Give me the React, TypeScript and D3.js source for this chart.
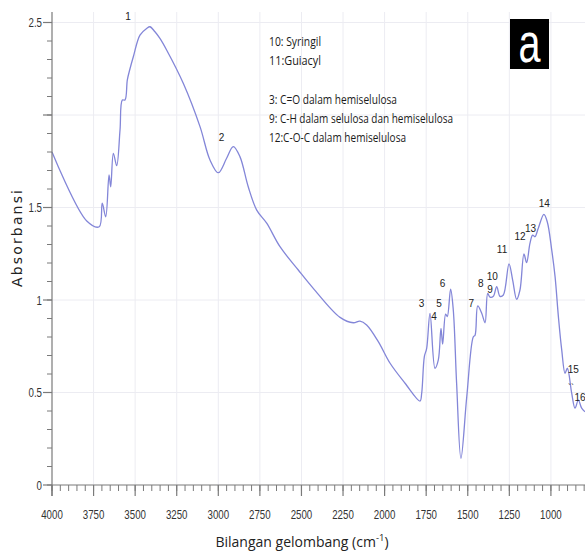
import React from "react";
import * as d3 from "d3";

const wavenumber = [
  4000, 3791, 3716, 3698, 3677, 3657, 3647, 3631, 3611, 3591, 3577, 3561, 3547, 3531, 3511,
  3471, 3431, 3411, 3381, 3351, 3310, 3210, 3110, 3050, 3000, 2950, 2910, 2870, 2820, 2769,
  2709, 2629, 2519, 2429, 2268, 2188, 2148, 2108, 2038, 1967, 1877, 1787, 1777, 1761, 1747,
  1727, 1697, 1677, 1661, 1651, 1633, 1623, 1603, 1587, 1567, 1541, 1506, 1467, 1456, 1440,
  1416, 1396, 1380, 1366, 1346, 1326, 1306, 1286, 1252, 1230, 1206, 1186, 1162, 1146, 1126,
  1110, 1096, 1076, 1042, 1022, 995, 975, 955, 935, 915, 901, 875, 855, 835, 815, 795,
];
const absorbance = [
  1.8, 1.427, 1.396, 1.523, 1.45, 1.676, 1.612, 1.793, 1.726, 1.919, 2.081, 2.081, 2.19, 2.25, 2.315,
  2.432, 2.468, 2.477, 2.45, 2.414, 2.35, 2.17, 1.937, 1.757, 1.688, 1.766, 1.829, 1.775, 1.612, 1.486,
  1.415, 1.288, 1.162, 1.063, 0.906, 0.877, 0.886, 0.865, 0.775, 0.658, 0.55, 0.454, 0.496, 0.694, 0.739,
  0.928, 0.631, 0.676, 0.847, 0.762, 0.924, 0.91, 1.058, 0.946, 0.55, 0.144, 0.477, 0.8, 0.81, 0.968,
  0.928, 0.877, 1.036, 1.015, 1.02, 1.072, 1.02, 1.027, 1.195, 1.108, 1.004, 1.054, 1.249, 1.202, 1.306,
  1.351, 1.342, 1.388, 1.463, 1.423, 1.27, 1.126, 0.91, 0.73, 0.604, 0.631, 0.496, 0.415, 0.459, 0.415, 0.396,
];

const peakNames = ["1", "2", "3", "4", "5", "6", "7", "8", "9", "10", "11", "12", "13", "14", "15", "16"];
const peakWn = [3543, 2981, 1778, 1703, 1673, 1651, 1479, 1422, 1366, 1352, 1294, 1186, 1122, 1040, 865, 825];
const peakAbs = [2.53, 1.881, 0.982, 0.91, 0.982, 1.09, 0.982, 1.09, 1.059, 1.126, 1.274, 1.342, 1.384, 1.523, 0.627, 0.474];

const legendLines = [
  "10: Syringil",
  "11:Guiacyl",
  "",
  "3: C=O dalam hemiselulosa",
  "9: C-H dalam selulosa dan hemiselulosa",
  "12:C-O-C dalam hemiselulosa",
];
const legendWidths = [52, 52, 0, 128, 184, 137];

const xMajorTicks = [4000, 3750, 3500, 3250, 3000, 2750, 2500, 2250, 2000, 1750, 1500, 1250, 1000];
const yMajorTicks = [0, 0.5, 1, 1.5, 2, 2.5];
const yTickLabels = ["0", "0.5", "1", "1.5", "", "2.5"];

const W = 585;
const H = 552;
const LINE = "#8386d8";
const AXIS = "#7a7a7a";
const GRID = "#ececf2";
const NARROW = "'Liberation Sans Narrow', 'Liberation Sans', Arial, sans-serif";

function charWidth(s: string) {
  let w = 0;
  for (const c of s) w += c === "." ? 2.7 : 5.4;
  return w;
}

export default function App() {
  const x = d3.scaleLinear().domain([4000, 795]).range([52, 585]);
  const y = d3.scaleLinear().domain([0, 2.5]).range([485, 22.5]);
  const pts: [number, number][] = wavenumber.map((w, i) => [w, absorbance[i]]);
  const line = d3
    .line<[number, number]>()
    .x((d) => x(d[0]))
    .y((d) => y(d[1]))
    .curve(d3.curveCatmullRom.alpha(0.5));

  const xMinor = d3.range(4000, 790, -50);
  const yMinor = d3.range(0, 2.501, 0.1);
  const x0 = x(4000);
  const y0 = y(0);

  return (
    <svg
      width={W}
      height={H}
      style={{ position: "absolute", left: 0, top: 0, background: "#fff" }}
      xmlns="http://www.w3.org/2000/svg"
    >
      <rect x={0} y={0} width={W} height={H} fill="#fff" />
      {/* grid */}
      {xMajorTicks.slice(1).map((t) => (
        <line key={"gx" + t} x1={x(t)} x2={x(t)} y1={y0} y2={12} stroke={GRID} strokeWidth={1} />
      ))}
      {yMajorTicks.slice(1).map((t) => (
        <line key={"gy" + t} x1={x0} x2={W} y1={y(t)} y2={y(t)} stroke={GRID} strokeWidth={1} />
      ))}

      {/* spectrum */}
      <path d={line(pts) || ""} fill="none" stroke={LINE} strokeWidth={1.3} />

      {/* y axis */}
      <line x1={x0} x2={x0} y1={12} y2={y0 + 11} stroke={AXIS} strokeWidth={1.2} />
      {yMinor.map((t, i) => (
        <line key={"ym" + i} x1={x0 - 5} x2={x0} y1={y(t)} y2={y(t)} stroke={AXIS} strokeWidth={1} />
      ))}
      {yMajorTicks.map((t, i) => (
        <g key={"yM" + t}>
          <line x1={x0 - 9} x2={x0} y1={y(t)} y2={y(t)} stroke={AXIS} strokeWidth={1.2} />
          {yTickLabels[i] && (
            <text
              x={x0 - 10}
              y={y(t) + 4.5}
              textAnchor="end"
              fontFamily={NARROW}
              fontSize={13.5}
              fill="#333"
              textLength={charWidth(yTickLabels[i])}
              lengthAdjust="spacingAndGlyphs"
            >
              {yTickLabels[i]}
            </text>
          )}
        </g>
      ))}

      {/* x axis */}
      <line x1={x0} x2={W} y1={y0} y2={y0} stroke={AXIS} strokeWidth={1.2} />
      {xMinor.map((t) => (
        <line key={"xm" + t} x1={x(t)} x2={x(t)} y1={y0} y2={y0 + 6} stroke={AXIS} strokeWidth={1} />
      ))}
      {xMajorTicks.map((t) => (
        <g key={"xM" + t}>
          <line x1={x(t)} x2={x(t)} y1={y0} y2={y0 + 11} stroke={AXIS} strokeWidth={1.2} />
          <text
            x={x(t)}
            y={519}
            textAnchor="middle"
            fontFamily={NARROW}
            fontSize={13.5}
            fill="#333"
            textLength={charWidth(String(t))}
            lengthAdjust="spacingAndGlyphs"
          >
            {t}
          </text>
        </g>
      ))}

      {/* axis titles */}
      <text
        x={302}
        y={547}
        textAnchor="middle"
        fontFamily="'Open Sans', 'Liberation Sans', sans-serif"
        fontSize={14}
        fill="#222"
      >
        Bilangan gelombang (cm
        <tspan fontSize={9.5} dy={-6}>-1</tspan>
        <tspan dy={6}>)</tspan>
      </text>
      <text
        transform="translate(22,238.5) rotate(-90)"
        textAnchor="middle"
        fontFamily="'DejaVu Sans', sans-serif"
        fontSize={14}
        fill="#222"
        textLength={97}
        lengthAdjust="spacing"
      >
        Absorbansi
      </text>

      {/* peak labels */}
      {peakNames.map((n, i) => (
        <text
          key={"p" + n}
          x={x(peakWn[i])}
          y={y(peakAbs[i]) + 3.5}
          textAnchor="middle"
          fontFamily={NARROW}
          fontSize={10}
          fill="#222"
        >
          {n}
        </text>
      ))}
      <text x={571} y={390} textAnchor="middle" fontFamily={NARROW} fontSize={9} fill="#222">
        ``
      </text>

      {/* legend notes */}
      {legendLines.map((s, i) =>
        s ? (
          <text
            key={"l" + i}
            x={269}
            y={46 + i * 19.2}
            fontFamily="'Open Sans', 'Liberation Sans', sans-serif"
            fontSize={12}
            fill="#1a1a1a"
            textLength={legendWidths[i]}
            lengthAdjust="spacingAndGlyphs"
          >
            {s}
          </text>
        ) : null
      )}

      {/* panel tag */}
      <rect x={510} y={19} width={39} height={50} fill="#000" />
      <text
        x={529.5}
        y={62}
        textAnchor="middle"
        fontFamily="'Liberation Sans', Arial, sans-serif"
        fontSize={56}
        fill="#fff"
        textLength={22}
        lengthAdjust="spacingAndGlyphs"
      >
        a
      </text>
    </svg>
  );
}
